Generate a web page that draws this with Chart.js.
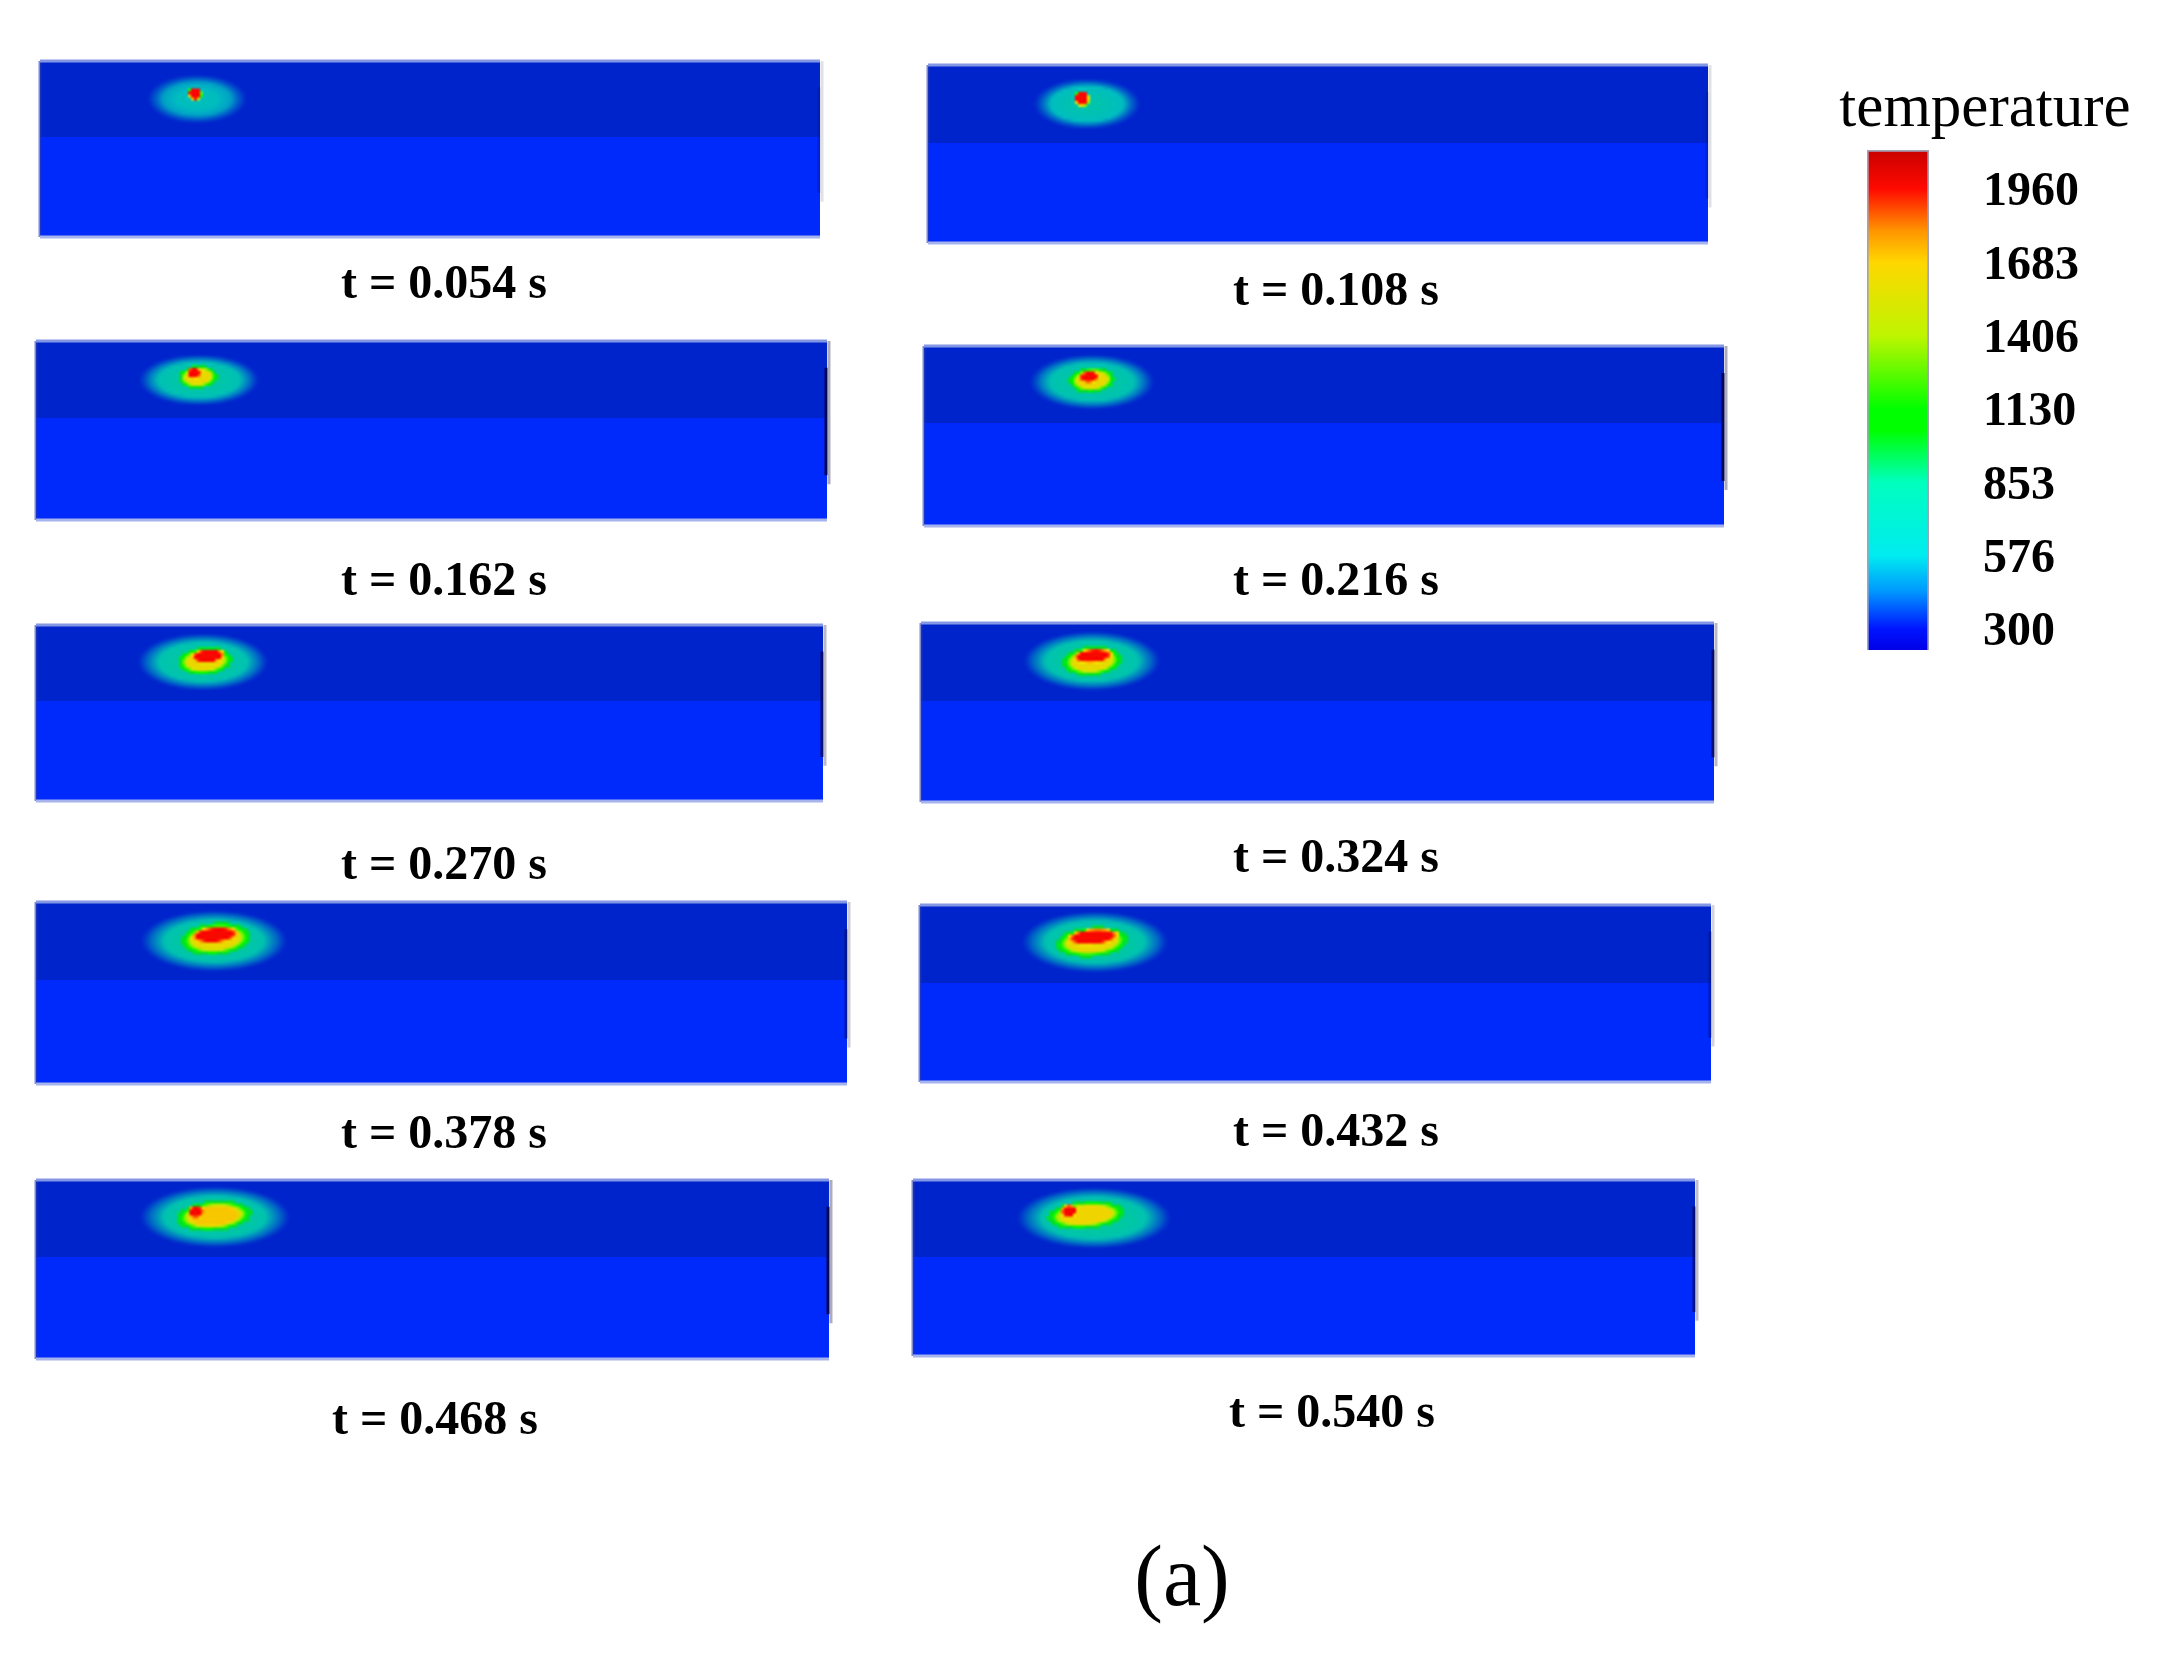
<!DOCTYPE html>
<html><head><meta charset="utf-8">
<script src="https://cdn.jsdelivr.net/npm/chart.js@4"></script>
<style>
html,body{margin:0;padding:0;background:#fff;width:2176px;height:1662px;overflow:hidden}
canvas{position:absolute;filter:blur(0.7px)}
#main{left:0;top:0}
#bar{left:1867px;top:100px}
</style></head><body>
<canvas id="bar" width="309" height="600"></canvas>
<canvas id="main" width="2176" height="1662"></canvas>
<script>
// ---- snapshot captions
const timeLabels=['t = 0.054 s','t = 0.108 s','t = 0.162 s','t = 0.216 s','t = 0.270 s','t = 0.324 s','t = 0.378 s','t = 0.432 s','t = 0.468 s','t = 0.540 s'];
const labelX=[444,1336,444,1336,444,1336,444,1336,435,1332];
const labelY=[286,293,583,583,867,860,1136,1134,1422,1415];
// ---- block faces in figure units
const panelLeft=[40,928,36,924,36,921,36,920,36,913];
const panelRight=[820,1708,827,1724,823,1714,847,1711,829,1695];
const panelTop=[61,65,341,346,625,623,902,905,1180,1180];
const panelEdge=[137,143,418,423,701,701,980,983,1257,1257];
const panelBottom=[237,243,520,526,801,802,1084,1082,1359,1356];
// ---- heat-affected zone
const haloX=[197,1087,199,1092,203,1092,214,1095,215,1094];
const haloY=[99,104,380,382,662,661,941,942,1217,1218];
const haloRx=[51,54,61,63,66,69,74,74,76,78];
const haloRy=[25,26,26,28,29,30,31,31,31,31];
const haloPeak=[640,740,840,860,880,900,900,900,900,900];
// ---- melt pool
const poolX=[195,1082,198,1092,205,1092,216,1092,214,1086];
const poolY=[94,99,377,380,661,661,939,942,1216,1215];
const poolRx=[7,8,17,20,24,26,31,32,33,34];
const poolRy=[7,8,10,11,12,13,14,13,13,12];
const poolTemp=[1960,1960,1620,1620,1620,1620,1620,1620,1700,1650];
// ---- hottest region
const hotX=[195,1082,194,1089,208,1093,215,1093,196,1069];
const hotY=[93,98,373,377,656,656,935,937,1212,1211];
const hotRx=[6,6,7,10,17,20,24,26,8,8];
const hotRy=[6,6,6,6,7,7,8,8,6,6];
// ---- colour legend
const legendTicks=[1960,1683,1406,1130,853,576,300];
const legendMin=221, legendMax=2107;
const tempStops=[[221,[0,0,230]],[300,[0,20,255]],[440,[0,150,255]],[576,[0,235,240]],[853,[0,255,190]],[1050,[0,255,0]],[1130,[0,255,0]],[1406,[190,245,0]],[1683,[255,215,0]],[1800,[255,150,0]],[1960,[255,10,0]],[2107,[200,0,0]]];
const rightEdgeStrength=[.2,.2,1,1,.8,.8,.5,.4,1,.7];
const poolTilt=-.08;

function tempColor(t){
  for(let i=1;i<tempStops.length;i++){
    if(t<=tempStops[i][0]){
      const a=tempStops[i-1],b=tempStops[i],f=Math.max(0,(t-a[0])/(b[0]-a[0]));
      return a[1].map((v,k)=>v+(b[1][k]-v)*f);
    }
  }
  return tempStops[tempStops.length-1][1];
}
function spot(i){
  const down=3,W=Math.ceil((haloRx[i]+6)*2/down),H=Math.ceil((haloRy[i]+6)*2/down);
  const low=document.createElement('canvas');low.width=W;low.height=H;
  const g=low.getContext('2d'),img=g.createImageData(W,H);
  const co=Math.cos(poolTilt),si=Math.sin(poolTilt);
  for(let py=0;py<H;py++)for(let px=0;px<W;px++){
    const x=haloX[i]+(px+.5-W/2)*down,y=haloY[i]+(py+.5-H/2)*down;
    const e=(cx,cy,rx,ry)=>Math.hypot((x-cx)/rx,(y-cy)/ry);
    const et=(cx,cy,rx,ry)=>Math.hypot(((x-cx)*co+(y-cy)*si)/rx,(-(x-cx)*si+(y-cy)*co)/ry);
    const dh=e(haloX[i],haloY[i],haloRx[i],haloRy[i]);
    const dp=et(poolX[i],poolY[i],poolRx[i],poolRy[i]);
    const dr=et(hotX[i],hotY[i],hotRx[i],hotRy[i]);
    let t=300,shade=.8,alpha=0;
    if(dh<1){t=300+(haloPeak[i]-300)*Math.pow(1-dh,.4);alpha=Math.min(1,(1-dh)*3);}
    if(dp<1.15&&poolRx[i]>10){t=Math.max(t,1000);shade=.88;alpha=1;}
    if(dp<1){t=1080+(poolTemp[i]-1080)*Math.min(1,(1-dp)*3.5);shade=.97;alpha=1;}
    if(dr<1){t=Math.max(t,poolTemp[i]+(1980-poolTemp[i])*Math.min(1,(1-dr)*4));shade=1;alpha=1;}
    const c=tempColor(t),o=(py*W+px)*4;
    img.data[o]=c[0]*shade;img.data[o+1]=c[1]*shade;img.data[o+2]=c[2]*shade;img.data[o+3]=alpha*255;
  }
  g.putImageData(img,0,0);
  const out=document.createElement('canvas');out.width=W*down;out.height=H*down;
  const c=out.getContext('2d');c.imageSmoothingEnabled=true;c.imageSmoothingQuality='high';
  c.drawImage(low,0,0,out.width,out.height);
  return out;
}
const spots=timeLabels.map((_,i)=>spot(i));
const rect=(l,r,t,b)=>[{x:l,y:t},{x:r,y:t},{x:r,y:b},{x:l,y:b},{x:l,y:t}];
const seg=(label,pts,color,w)=>({type:'line',label,data:pts,borderColor:color,borderWidth:w,pointRadius:0,tension:0,fill:false,order:3});
const datasets=[];
timeLabels.forEach((_,i)=>{
  const l=panelLeft[i],r=panelRight[i],t=panelTop[i],m=panelEdge[i],b=panelBottom[i],h=b-t,k=rightEdgeStrength[i];
  datasets.push({type:'line',label:'top '+timeLabels[i],data:rect(l,r,t,m),borderWidth:0,backgroundColor:'#0024cc',fill:'shape',pointRadius:0,tension:0,order:4});
  datasets.push({type:'line',label:'front '+timeLabels[i],data:rect(l,r,m,b),borderWidth:0,backgroundColor:'#0029fb',fill:'shape',pointRadius:0,tension:0,order:4});
  datasets.push(seg('upper edge',[{x:l,y:t},{x:r,y:t}],'#8497e4',3));
  datasets.push(seg('lower edge',[{x:l,y:b},{x:r,y:b}],'#a6b3ec',3));
  datasets.push(seg('left edge',[{x:l,y:t},{x:l,y:b}],'rgba(40,60,170,.6)',3));
  datasets.push(seg('right glow',[{x:r+2,y:t},{x:r+2,y:b-h*.2}],'rgba(70,70,110,'+(.35*k+.1)+')',3));
  datasets.push(seg('right edge',[{x:r-1,y:t+h*.15},{x:r-1,y:b-h*.25}],'rgba(0,6,90,'+k+')',3));
});
datasets.push({type:'scatter',label:'temperature field',data:haloX.map((x,i)=>({x,y:haloY[i]})),
  pointStyle:spots,pointRadius:10,order:1});
const captions={id:'captions',afterDraw(ch){
  const {ctx,scales:{x,y}}=ch;ctx.save();ctx.fillStyle='#000';ctx.textAlign='center';ctx.textBaseline='middle';
  ctx.font='bold 48px "Liberation Serif"';
  timeLabels.forEach((t,i)=>ctx.fillText(t,x.getPixelForValue(labelX[i]),y.getPixelForValue(labelY[i])));
  ctx.font='61px "Liberation Serif"';ctx.fillText('temperature',x.getPixelForValue(1985),y.getPixelForValue(110));
  ctx.font='86px "Liberation Serif"';ctx.fillText('(a)',x.getPixelForValue(1182),y.getPixelForValue(1582));
  ctx.restore();
}};
new Chart(document.getElementById('main'),{
  data:{datasets},plugins:[captions],
  options:{responsive:false,animation:false,devicePixelRatio:1,layout:{padding:0,autoPadding:false},
    plugins:{legend:{display:false},tooltip:{enabled:false},title:{display:false}},
    scales:{x:{type:'linear',min:0,max:2176,display:false},y:{type:'linear',min:0,max:1662,reverse:true,display:false}}}
});
new Chart(document.getElementById('bar'),{
  type:'bar',
  data:{labels:['temperature'],datasets:[{data:[[legendMin,legendMax]],barPercentage:1,categoryPercentage:1,
    borderWidth:2,borderColor:'rgba(70,70,110,.5)',
    backgroundColor(c){
      const ch=c.chart;if(!ch.chartArea)return '#00f';
      const sy=ch.scales.y,g=ch.ctx.createLinearGradient(0,sy.getPixelForValue(legendMin),0,sy.getPixelForValue(legendMax));
      tempStops.forEach(s=>g.addColorStop((s[0]-legendMin)/(legendMax-legendMin),'rgb('+s[1].join(',')+')'));
      return g;
    }}]},
  options:{responsive:false,animation:false,devicePixelRatio:1,layout:{padding:{top:50,bottom:50},autoPadding:false},
    plugins:{legend:{display:false},tooltip:{enabled:false}},
    scales:{x:{display:false},
      y:{position:'right',min:legendMin,max:legendMax,grid:{display:false},border:{display:false},
        afterBuildTicks(s){s.ticks=legendTicks.map(value=>({value}));},
        afterFit(s){s.width=247;s.paddingTop=0;s.paddingBottom=0;},
        ticks:{autoSkip:false,padding:46,labelOffset:4,color:'#000',font:{family:'"Liberation Serif"',weight:'bold',size:48},callback:v=>String(v)}}}}
});
</script></body></html>
